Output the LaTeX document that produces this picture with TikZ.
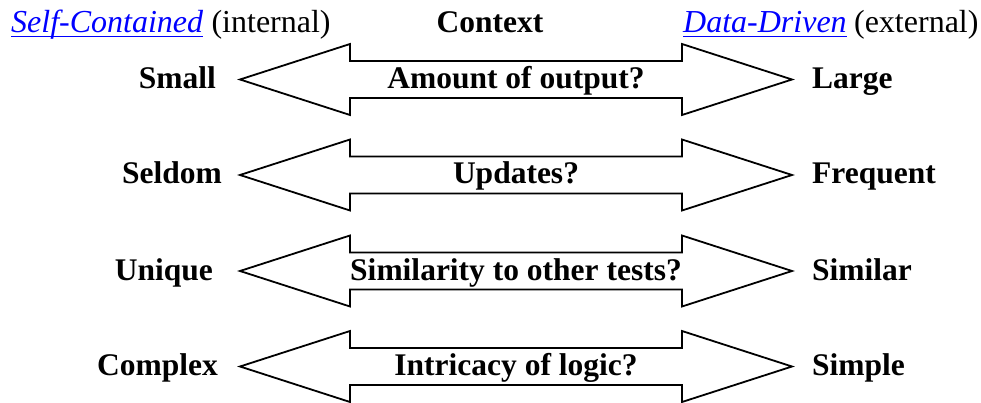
\documentclass[tikz,border=0pt]{standalone}
\usepackage{fontspec}
\setmainfont{Liberation Serif}
\begin{document}
\begin{tikzpicture}[x=1pt,y=-1pt,
  every node/.style={inner sep=0pt, font=\fontsize{32}{38}\selectfont},
  lbl/.style={font=\fontsize{31.5}{38}\selectfont\bfseries},
  link/.style={text=blue, font=\fontsize{32}{38}\selectfont\itshape},
  linkline/.style={draw=blue, line width=1.4pt},
  dbl/.style={draw=black, line width=1.8pt, line join=miter, fill=white}]
\useasboundingbox[fill=white] (0,0) rectangle (981,403);

% column headings
\node[anchor=base west, link] (selfc) at (11,33) {Self-Contained};
\node[anchor=base west] (selfi) at ([xshift=8pt]selfc.base east) {(internal)};
\draw[linkline] ([yshift=-3.5pt]selfc.base west) -- ([yshift=-3.5pt]selfc.base east);
\node[anchor=base, lbl] (ctx) at (490,33) {Context};
\node[anchor=base west, link] (datad) at (683,33) {Data-Driven};
\node[anchor=base west] (datae) at ([xshift=7pt]datad.base east) {(external)};
\draw[linkline] ([yshift=-3.5pt]datad.base west) -- ([yshift=-3.5pt]datad.base east);

% one double arrow per criterion, question in the shaft, extremes at the tips
\foreach \i/\cy/\q/\l/\lx/\r in {
    1/79.5/{Amount of output?}/Small/216/Large,
    2/175/{Updates?}/Seldom/222/Frequent,
    3/271/{Similarity to other tests?}/Unique/213/Similar,
    4/366.5/{Intricacy of logic?}/Complex/218/Simple}{
  \draw[dbl] (240,\cy) -- (350,\cy-35.5) -- (350,\cy-18.5) -- (682,\cy-18.5)
    -- (682,\cy-35.5) -- (792,\cy) -- (682,\cy+35.5) -- (682,\cy+18.5)
    -- (350,\cy+18.5) -- (350,\cy+35.5) -- cycle;
  \node[lbl, anchor=base] (q\i) at (516,\cy+9) {\q};
  \node[lbl, anchor=base east] (l\i) at (\lx,\cy+9) {\l};
  \node[lbl, anchor=base west] (r\i) at (812,\cy+9) {\r};
}
\end{tikzpicture}
\end{document}
